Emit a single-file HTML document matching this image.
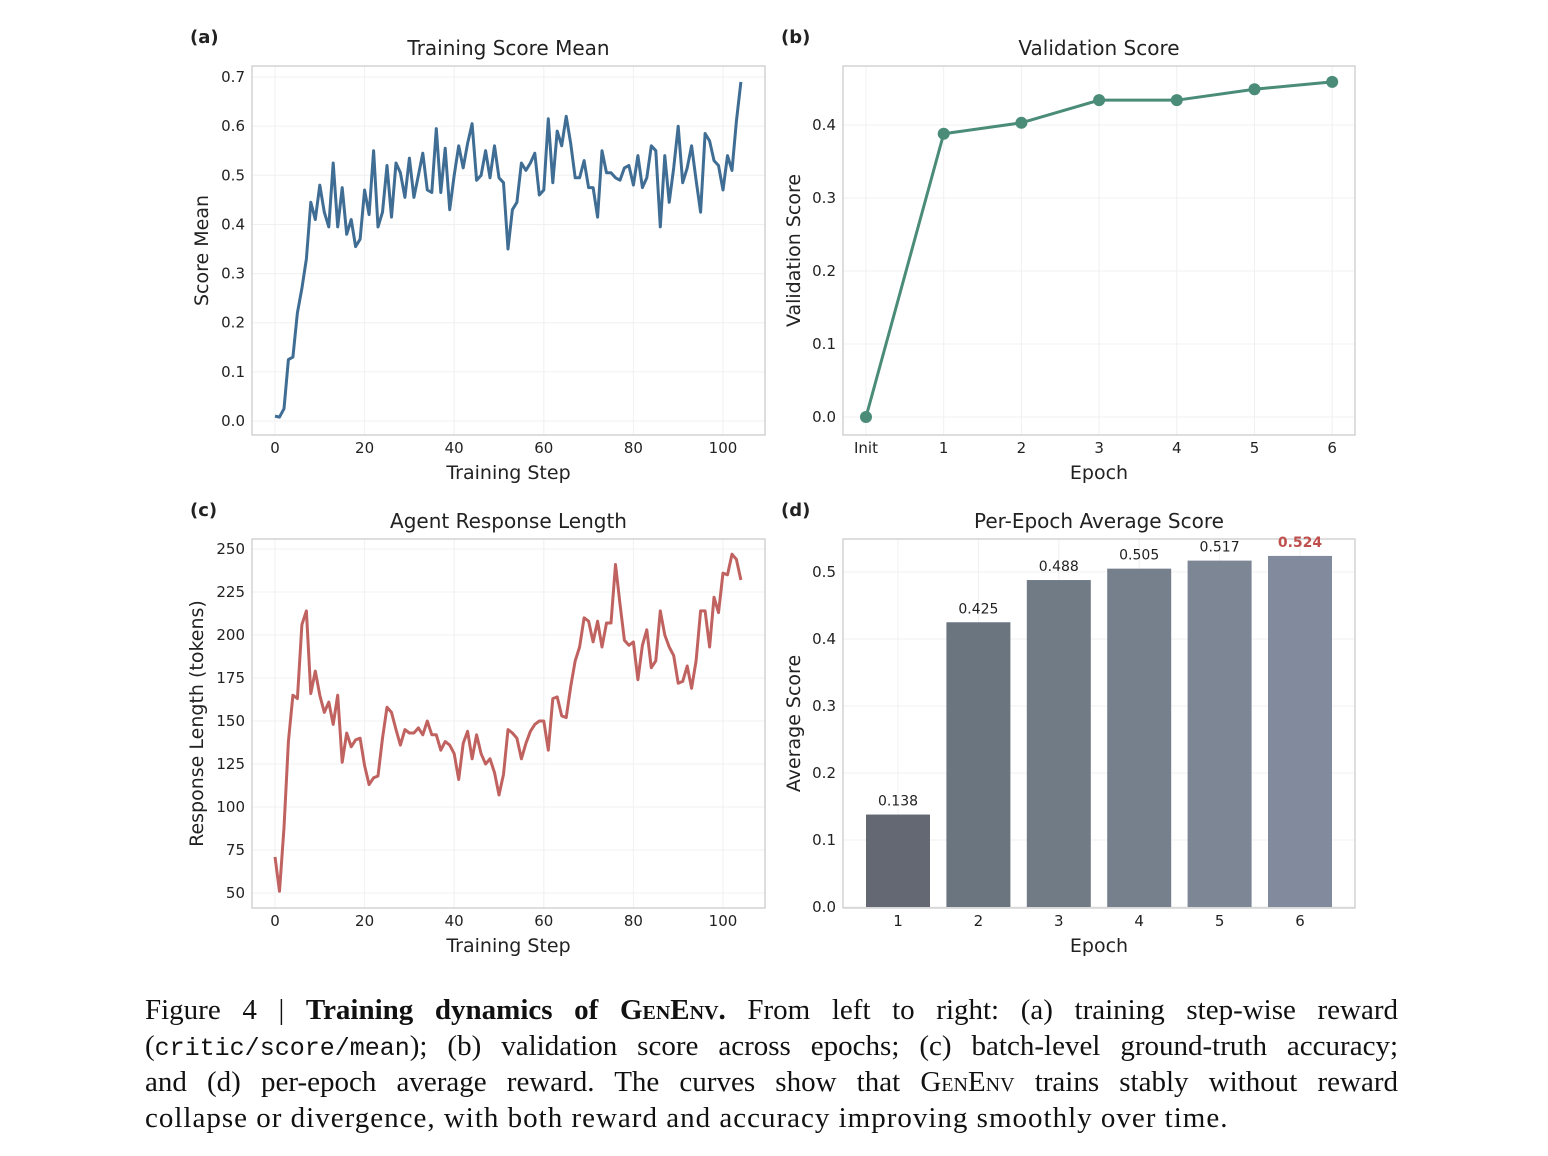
<!DOCTYPE html>
<html><head><meta charset="utf-8">
<style>
body{margin:0;background:#fff;width:1548px;height:1156px;overflow:hidden;position:relative;font-family:"DejaVu Sans","Liberation Sans",sans-serif;}
svg{position:absolute;left:0;top:0}
.cap{position:absolute;left:145px;width:1253px;font-family:"Liberation Serif",serif;font-size:29px;color:#111;white-space:nowrap;line-height:36px}
.j{text-align:justify;text-align-last:justify}
.sc{font-variant:small-caps}
.mono{font-family:"Liberation Mono",monospace;font-size:25px}
</style></head><body>
<svg id="fig" width="1548" height="980" xmlns="http://www.w3.org/2000/svg"></svg>
<div class="cap j" style="top:992px">Figure 4 | <b>Training dynamics of <span class="sc">GenEnv</span>.</b> From left to right: (a) training step-wise reward</div>
<div class="cap j" style="top:1028px">(<span class="mono">critic/score/mean</span>); (b) validation score across epochs; (c) batch-level ground-truth accuracy;</div>
<div class="cap j" style="top:1064px">and (d) per-epoch average reward. The curves show that <span class="sc">GenEnv</span> trains stably without reward</div>
<div class="cap" style="top:1100px;letter-spacing:1px">collapse or divergence, with both reward and accuracy improving smoothly over time.</div>
<script>
const scoreMean=[0.01,0.008,0.025,0.125,0.13,0.22,0.27,0.33,0.445,0.41,0.48,0.425,0.395,0.525,0.395,0.475,0.38,0.41,0.355,0.37,0.47,0.42,0.55,0.395,0.425,0.52,0.415,0.525,0.505,0.455,0.535,0.455,0.5,0.545,0.47,0.465,0.595,0.465,0.555,0.43,0.5,0.56,0.515,0.565,0.605,0.49,0.5,0.55,0.495,0.56,0.495,0.485,0.35,0.43,0.445,0.525,0.51,0.525,0.545,0.46,0.47,0.615,0.485,0.59,0.56,0.62,0.565,0.495,0.495,0.53,0.475,0.475,0.415,0.55,0.505,0.505,0.495,0.49,0.515,0.52,0.48,0.54,0.475,0.495,0.56,0.55,0.395,0.54,0.445,0.515,0.6,0.485,0.515,0.56,0.49,0.425,0.585,0.57,0.53,0.52,0.47,0.54,0.51,0.61,0.69];
const respLen=[71,51,88,138,165,163,206,214,166,179,165,155,161,148,165,126,143,135,139,140,124,113,117,118,140,158,155,145,136,145,143,143,146,142,150,142,142,133,138,136,131,116,137,144,128,142,131,125,128,120,107,119,145,143,140,128,137,144,148,150,150,133,163,164,153,152,170,185,193,210,208,196,208,193,207,207,241,218,197,194,196,174,194,203,181,185,214,200,193,188,172,173,182,169,185,214,214,193,222,213,236,235,247,244,232];
const epochLabels=["Init","1","2","3","4","5","6"];
const valScore=[0,0.388,0.403,0.434,0.434,0.449,0.459];
const barEpochs=["1","2","3","4","5","6"];
const barScores=[0.138,0.425,0.488,0.505,0.517,0.524];
const barColors=["#636873","#6b7580","#717b86","#76808c","#7c8694","#818b9d"];
const stepTicks=[0,20,40,60,80,100];
const aTicks=[0,0.1,0.2,0.3,0.4,0.5,0.6,0.7];
const bTicks=[0,0.1,0.2,0.3,0.4];
const cTicks=[50,75,100,125,150,175,200,225,250];
const dTicks=[0,0.1,0.2,0.3,0.4,0.5];

const svg=document.getElementById('fig');
const NS='http://www.w3.org/2000/svg';
function mk(tag,attrs,parent){const e=document.createElementNS(NS,tag);for(const k in attrs)e.setAttribute(k,attrs[k]);(parent||svg).appendChild(e);return e;}
function txt(s,x,y,size,anchor,extra,parent){const t=mk('text',Object.assign({x:x,y:y,'font-size':size,'text-anchor':anchor||'middle',fill:'#222'},extra||{}),parent);t.textContent=s;return t;}

function panel(o){
  const g=mk('g',{});
  
  
  o.xt.forEach(v=>{mk('line',{x1:o.sx(v),x2:o.sx(v),y1:o.y0,y2:o.y1,stroke:'#f0f0f0','stroke-width':1},g);});
  o.yt.forEach(v=>{mk('line',{x1:o.x0,x2:o.x1,y1:o.sy(v),y2:o.sy(v),stroke:'#f0f0f0','stroke-width':1},g);});
  const fr=mk('rect',{x:o.x0,y:o.y0,width:o.x1-o.x0,height:o.y1-o.y0,fill:'none',stroke:'#cccccc','stroke-width':1.3},g);
  
  
  o.yt.forEach(v=>{const t=txt(o.yf(v),o.x0-7,o.sy(v)+5,15,'end',{},g);});
  o.xt.forEach((v,i)=>{const t=txt(o.xl?o.xl[i]:String(v),o.sx(v),o.y1+18,15,'middle',{},g);});
  const ti=txt(o.title,(o.x0+o.x1)/2,o.y0-11,20,'middle',{},g);
  const xl=txt(o.xlabel,(o.x0+o.x1)/2,o.y1+44,19,'middle',{},g);
  const cy=(o.y0+o.y1)/2;
  const yl=txt(o.ylabel,o.ylx,cy,19,'middle',{transform:`rotate(-90 ${o.ylx} ${cy})`},g);
  const pl=txt(o.letter,o.x0-62,o.y0-23,18,'start',{'font-weight':'bold'},g);
  return g;
}

(function(){
  const x0=252,x1=765,y0=66,y1=435;
  const sx=v=>275+v*4.48, sy=v=>421-v*491.4;
  const g=panel({name:'panel-a-training-score',x0,x1,y0,y1,sx,sy,xt:stepTicks,yt:aTicks,yf:v=>v.toFixed(1),title:'Training Score Mean',xlabel:'Training Step',ylabel:'Score Mean',ylx:208,letter:'(a)'});
  const p=mk('path',{d:scoreMean.map((v,i)=>(i?'L':'M')+sx(i).toFixed(1)+','+sy(v).toFixed(1)).join(''),fill:'none',stroke:'#3f6d94','stroke-width':3,'stroke-linejoin':'round'},g);
  
  
})();
(function(){
  const x0=843,x1=1355,y0=66,y1=435;
  const idx=[0,1,2,3,4,5,6];
  const sx=v=>866+v*77.7, sy=v=>417-v*730;
  const g=panel({name:'panel-b-validation-score',x0,x1,y0,y1,sx,sy,xt:idx,xl:epochLabels,yt:bTicks,yf:v=>v.toFixed(1),title:'Validation Score',xlabel:'Epoch',ylabel:'Validation Score',ylx:800,letter:'(b)'});
  const p=mk('path',{d:valScore.map((v,i)=>(i?'L':'M')+sx(i)+','+sy(v)).join(''),fill:'none',stroke:'#4a8c78','stroke-width':3},g);
  
  
  valScore.forEach((v,i)=>{const c=mk('circle',{cx:sx(i),cy:sy(v),r:6,fill:'#4a8c78'},g);
    
    });
})();
(function(){
  const x0=252,x1=765,y0=539,y1=908;
  const sx=v=>275+v*4.48, sy=v=>893-(v-50)*1.72;
  const g=panel({name:'panel-c-response-length',x0,x1,y0,y1,sx,sy,xt:stepTicks,yt:cTicks,yf:v=>String(v),title:'Agent Response Length',xlabel:'Training Step',ylabel:'Response Length (tokens)',ylx:203,letter:'(c)'});
  const p=mk('path',{d:respLen.map((v,i)=>(i?'L':'M')+sx(i).toFixed(1)+','+sy(v).toFixed(1)).join(''),fill:'none',stroke:'#c0625f','stroke-width':3,'stroke-linejoin':'round'},g);
  
  
})();
(function(){
  const x0=843,x1=1355,y0=539,y1=908;
  const idx=[0,1,2,3,4,5];
  const sx=v=>898+v*80.4, sy=v=>907-v*670;
  const g=panel({name:'panel-d-per-epoch-score',x0,x1,y0,y1,sx,sy,xt:idx,xl:barEpochs,yt:dTicks,yf:v=>v.toFixed(1),title:'Per-Epoch Average Score',xlabel:'Epoch',ylabel:'Average Score',ylx:800,letter:'(d)'});
  barScores.forEach((v,i)=>{
    const r=mk('rect',{x:sx(i)-32,y:sy(v),width:64,height:sy(0)-sy(v),fill:barColors[i]},g);
    
    
    const last=i===barScores.length-1;
    const t=txt(v.toFixed(3),sx(i),sy(v)-9,14,'middle',last?{fill:'#c0504d','font-weight':'bold'}:{},g);
    
    
  });
})();
</script>
</body></html>
